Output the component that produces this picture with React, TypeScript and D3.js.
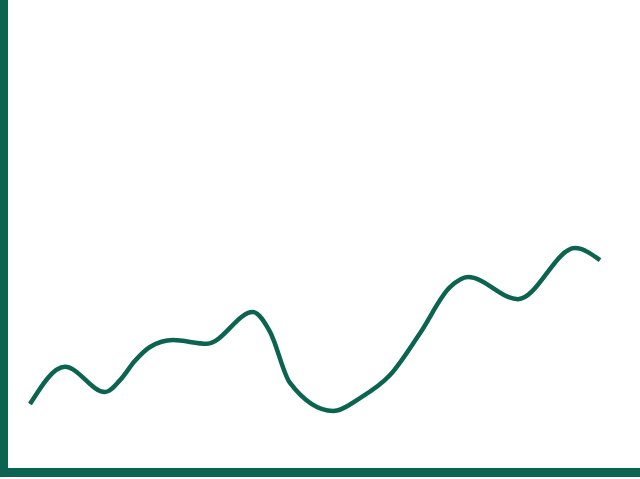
import { useEffect, useRef } from 'react';
import * as d3 from 'd3';

// values (x: 0..100, y: 0..100)
const xValues = [
  0, 6.14, 13.16, 15.79, 18.42, 21.05, 25.09, 31.05, 39.12, 42.11, 45.61,
  53.16, 57.89, 63.16, 68.42, 73.68, 76.84, 85.61, 95.61, 100,
];
const yValues = [
  13.9, 22.0, 16.5, 19.1, 23.3, 26.3, 27.8, 27.0, 33.9, 29.6, 18.5,
  12.4, 15.2, 20.2, 29.3, 39.3, 41.5, 36.7, 47.8, 45.2,
];

const width = 640;
const height = 479;
const color = '#0b6450';

const App = () => {
  const ref = useRef<SVGSVGElement | null>(null);

  useEffect(() => {
    document.body.style.margin = '0';
    const svg = d3.select(ref.current);
    svg.selectAll('*').remove();

    const x = d3.scaleLinear().domain([0, 100]).range([30, 600]);
    const y = d3.scaleLinear().domain([0, 100]).range([468, 8]);

    const data = xValues.map((v, i) => ({ x: v, y: yValues[i] }));

    const line = d3
      .line<{ x: number; y: number }>()
      .x((d) => x(d.x))
      .y((d) => y(d.y))
      .curve(d3.curveMonotoneX);

    svg
      .append('path')
      .datum(data)
      .attr('d', line)
      .attr('fill', 'none')
      .attr('stroke', color)
      .attr('stroke-width', 4.5);

    // thick left and bottom axis bars
    svg
      .append('rect')
      .attr('x', 0)
      .attr('y', 0)
      .attr('width', 8)
      .attr('height', 477)
      .attr('fill', color);
    svg
      .append('rect')
      .attr('x', 0)
      .attr('y', 468)
      .attr('width', width)
      .attr('height', 9)
      .attr('fill', color);
  }, []);

  return (
    <svg
      ref={ref}
      width={width}
      height={height}
      style={{ display: 'block', background: 'white' }}
    />
  );
};

export default App;
